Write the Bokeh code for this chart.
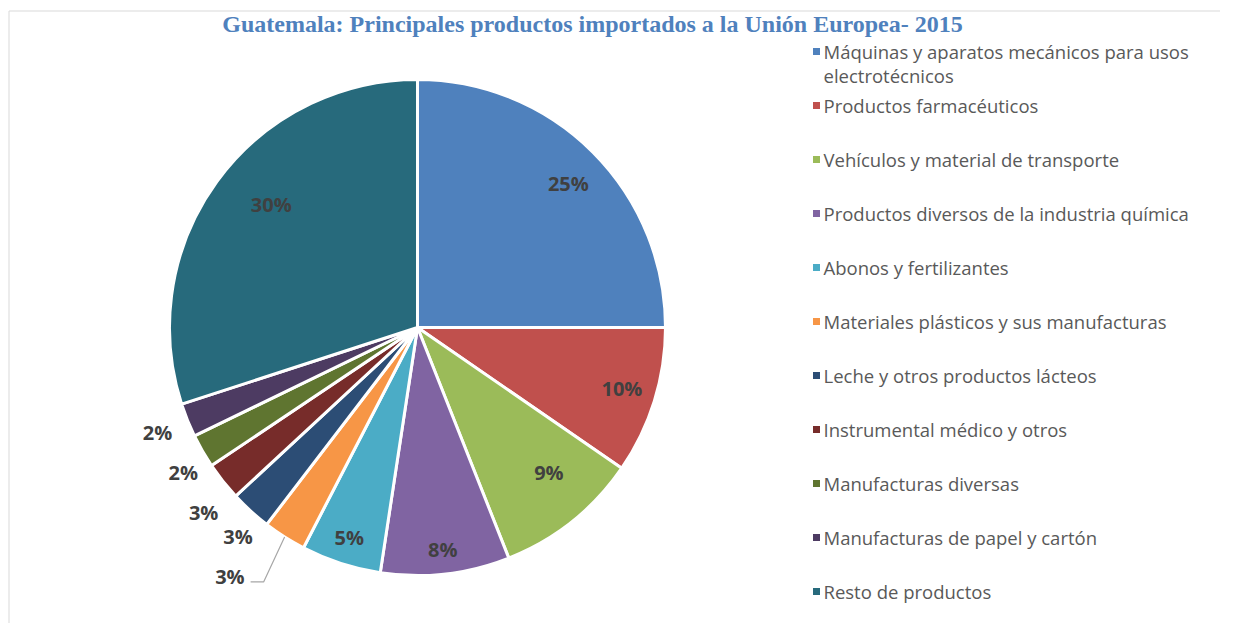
import math
from bokeh.plotting import figure
from bokeh.models import Range1d
from bokeh.core.properties import value
from bokeh.embed import file_html
from bokeh.resources import INLINE

# ---------------- data ----------------
title = "Guatemala: Principales productos importados a la Unión Europea- 2015"
categories = [
    "Máquinas y aparatos mecánicos para usos\nelectrotécnicos",
    "Productos farmacéuticos",
    "Vehículos y material de transporte",
    "Productos diversos de la industria química",
    "Abonos y fertilizantes",
    "Materiales plásticos y sus manufacturas",
    "Leche y otros productos lácteos",
    "Instrumental médico y otros",
    "Manufacturas diversas",
    "Manufacturas de papel y cartón",
    "Resto de productos",
]
shares = [25.0, 9.6, 9.4, 8.4, 5.2, 2.8, 2.7, 2.5, 2.2, 2.2, 30.0]
labels = ["25%", "10%", "9%", "8%", "5%", "3%", "3%", "3%", "2%", "2%", "30%"]
colors = ["#4F81BD", "#C0504D", "#9BBB59", "#8064A2", "#4BACC6", "#F79646",
          "#2C4D75", "#772C2A", "#5F7530", "#4D3B62", "#276A7C"]

# label placement styles: radial fraction of radius (None = leader-line label)
# and small angular nudges in degrees
label_r = [0.84, 0.86, 0.79, 0.90, 0.89, None, 1.11, 1.14, 1.11, 1.13, 0.77]
label_da = [1.4, -0.7, -3.6, 0.0, 0.0, 0.0, -1.6, -2.5, -1.8, 0.0, 4.0]

# ---------------- layout helpers (picture pixel coords) ----------------
W, H = 1220, 623
def Y(py):
    return H - py

p = figure(width=W, height=H, output_backend="svg", toolbar_location=None,
           x_range=Range1d(0, W), y_range=Range1d(0, H),
           min_border=0, outline_line_color=None)
p.axis.visible = False
p.grid.visible = False
p.background_fill_color = "white"
p.border_fill_color = "white"

# chart-area border (top/left visible)
p.line([8.5, 8.5, W + 10], [Y(H + 10), Y(10.5), Y(10.5)], line_color="#D9D9D9", line_width=1)

# title
p.text([592], [Y(23)], text=[title], text_font=value("Liberation Serif"),
       text_font_style="bold", text_font_size="24px", text_color="#4F81BD",
       text_align="center", text_baseline="alphabetic")

# ---------------- pie ----------------
cx, cy, R = 417, Y(327), 248
total = sum(shares)
starts, ends, mids = [], [], []
c = 0.0
for s in shares:
    a0 = c / total
    c += s
    a1 = c / total
    starts.append(math.pi / 2 - 2 * math.pi * a0)
    ends.append(math.pi / 2 - 2 * math.pi * a1)
    mids.append(2 * math.pi * (a0 + a1) / 2)  # clockwise from 12 o'clock

p.wedge(x=[cx] * len(shares), y=[cy] * len(shares), radius=R,
        start_angle=starts, end_angle=ends, direction="clock",
        fill_color=colors, line_color="white", line_width=3)

lx, ly, lt = [], [], []
for i, k in enumerate(label_r):
    th = mids[i] + math.radians(label_da[i])
    if k is None:
        # leader line label
        sx = cx + R * math.sin(th)
        sy = cy + R * math.cos(th)
        ex, ey = sx - 21, sy - 45
        fx = ex - 13
        p.line([sx, ex, fx], [sy, ey, ey], line_color="#A6A6A6", line_width=1.2)
        p.text([fx - 6], [ey + 5], text=[labels[i]], text_font=value("Open Sans"),
               text_font_style="bold", text_font_size="20px", text_color="#404040",
               text_align="right", text_baseline="middle")
        continue
    lx.append(cx + k * R * math.sin(th))
    ly.append(cy + k * R * math.cos(th))
    lt.append(labels[i])
p.text(lx, ly, text=lt, text_font=value("Open Sans"), text_font_style="bold",
       text_font_size="20px", text_color="#404040", text_align="center",
       text_baseline="middle")

# ---------------- legend ----------------
leg_y = [Y(51 + 54 * i) for i in range(len(categories))]
p.rect(x=[816] * len(categories), y=leg_y, width=7, height=7,
       fill_color=colors, line_color=None)
for i, name in enumerate(categories):
    lines = name.split("\n")
    for j, ln in enumerate(lines):
        p.text([823], [leg_y[i] - 24 * j], text=[ln], text_font=value("Open Sans"),
               text_font_size="18.5px", text_color="#595959",
               text_align="left", text_baseline="middle")

open("out.html", "w").write(file_html(p, INLINE))
